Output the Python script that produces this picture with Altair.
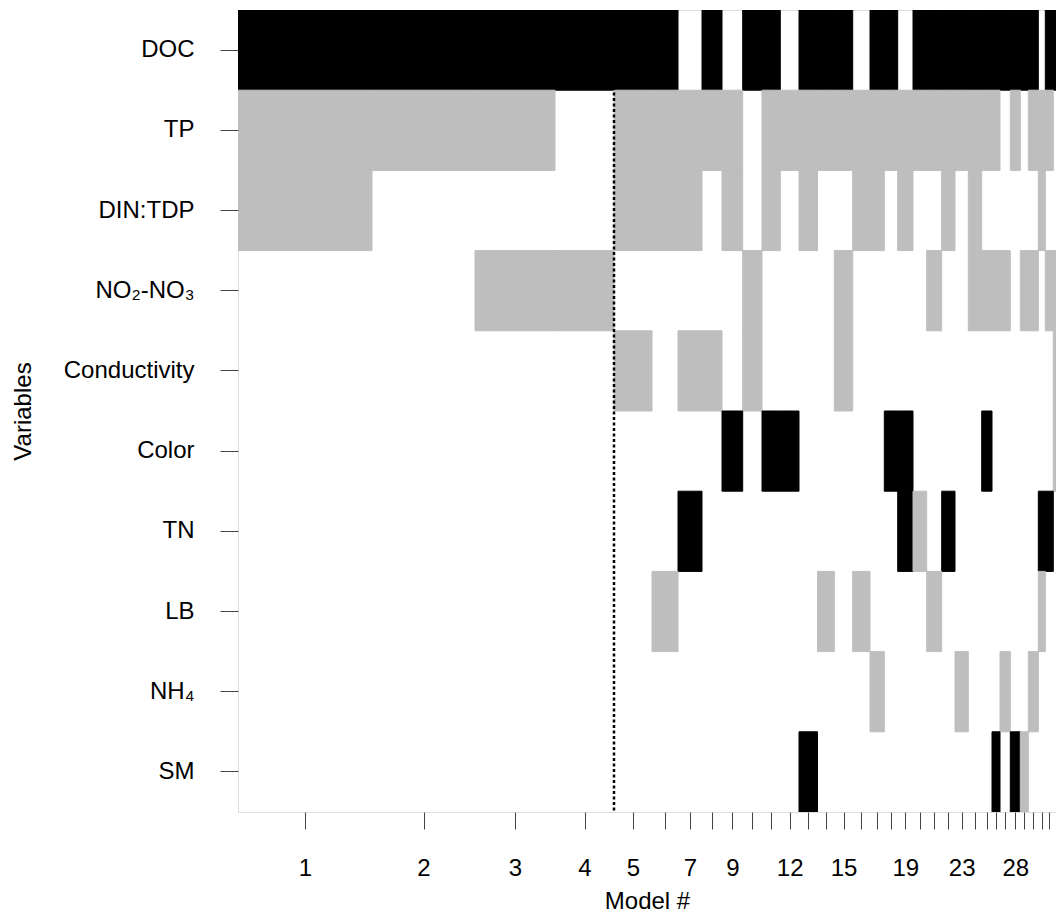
import altair as alt
import pandas as pd

# Variables (rows, top to bottom)
variables = ["DOC", "TP", "DIN:TDP", "NO₂-NO₃", "Conductivity",
             "Color", "TN", "LB", "NH₄", "SM"]

# Posterior model probabilities (%) for the visible models 1..34
post_prob = [13.4, 10.3, 8.0, 5.9, 3.8, 2.6, 2.4, 2.0, 2.07, 1.93,
             1.83, 1.87, 1.85, 1.68, 1.84, 1.73, 1.43, 1.34, 1.53, 1.37,
             1.50, 1.33, 1.33, 1.34, 1.03, 0.80, 1.03, 1.00, 0.80, 1.00,
             0.70, 0.80, 0.77, 0.50]

# Visible part of the cumulative probability axis (%)
x_max = 81.8

# Tick labels shown under the model ticks ("" = tick only)
tick_labels = ["1", "2", "3", "4", "5", "", "7", "", "9", "",
               "", "12", "", "", "15", "", "", "", "19", "",
               "", "", "23", "", "", "", "", "28", "", "",
               "", "", "", ""]

# Sign of coefficient per model: 1 = positive (black), -1 = negative (grey), 0 = not in model
doc  = [1, 1, 1, 1, 1, 1, 0, 1, 0, 1, 1, 0, 1, 1, 1, 0, 1, 1, 0, 1,
        1, 1, 1, 1, 1, 1, 1, 1, 1, 1, 0, 1, 1, 1]
tp   = [-1, -1, -1, 0, -1, -1, -1, -1, -1, 0, -1, -1, -1, -1, -1, -1, -1, -1, -1, -1,
        -1, -1, -1, -1, -1, -1, 0, -1, 0, -1, -1, -1, 0, 0]
din  = [-1, 0, 0, 0, -1, -1, -1, 0, -1, 0, -1, 0, -1, 0, 0, -1, -1, 0, -1, 0,
        0, -1, 0, -1, 0, 0, 0, 0, 0, 0, -1, 0, 0, 0]
no23 = [0, 0, -1, -1, 0, 0, 0, 0, 0, -1, 0, 0, 0, 0, -1, 0, 0, 0, 0, 0,
        -1, 0, 0, -1, -1, -1, -1, 0, -1, -1, 0, -1, -1, 0]
cond = [0, 0, 0, 0, -1, 0, -1, -1, 0, -1, 0, 0, 0, 0, -1, 0, 0, 0, 0, 0,
        0, 0, 0, 0, 0, 0, 0, 0, 0, 0, 0, 0, -1, 0]
color = [0, 0, 0, 0, 0, 0, 0, 0, 1, 0, 1, 1, 0, 0, 0, 0, 0, 1, 1, 0,
         0, 0, 0, 0, 1, 0, 0, 0, 0, 0, 0, 0, -1, 0]
tn   = [0, 0, 0, 0, 0, 0, 1, 0, 0, 0, 0, 0, 0, 0, 0, 0, 0, 0, 1, -1,
        0, 1, 0, 0, 0, 0, 0, 0, 0, 0, 1, 1, 0, -1]
lb   = [0, 0, 0, 0, 0, -1, 0, 0, 0, 0, 0, 0, 0, -1, 0, -1, 0, 0, 0, 0,
        -1, 0, 0, 0, 0, 0, 0, 0, 0, 0, -1, 0, 0, 0]
nh4  = [0, 0, 0, 0, 0, 0, 0, 0, 0, 0, 0, 0, 0, 0, 0, 0, -1, 0, 0, 0,
        0, 0, -1, 0, 0, 0, -1, 0, 0, -1, 0, 0, 0, 0]
sm   = [0, 0, 0, 0, 0, 0, 0, 0, 0, 0, 0, 0, 1, 0, 0, 0, 0, 0, 0, 0,
        0, 0, 0, 0, 0, 1, 0, 1, -1, 0, 0, 0, 0, 0]

# Number of best models marked by the dotted line
n_marked = 4

signs = [doc, tp, din, no23, cond, color, tn, lb, nh4, sm]

# Build model extents from the probabilities
starts, ends, centers = [], [], []
acc = 0.0
for p in post_prob:
    starts.append(round(acc, 4))
    centers.append(round(acc + p / 2, 4))
    acc += p
    ends.append(round(acc, 4))

rows = []
for var, s in zip(variables, signs):
    for i, v in enumerate(s):
        if v != 0:
            rows.append({"variable": var, "model": i + 1, "start": starts[i],
                         "end": ends[i], "sign": v})
df = pd.DataFrame(rows)

line_df = pd.DataFrame({"x": [ends[n_marked - 1]]})

FONT = "Liberation Sans, Arial, Helvetica, DejaVu Sans, sans-serif"

label_expr = "[" + ",".join("'%s'" % t for t in tick_labels) + "][indexof([" + \
    ",".join(repr(c) for c in centers) + "], datum.value)]"

x_scale = alt.Scale(domain=[0, x_max], nice=False, zero=False)
sign_scale = alt.Scale(domain=[-1, 1], range=["#bebebe", "#000000"])

rects = alt.Chart(df).mark_rect(clip=True, strokeWidth=1).encode(
    x=alt.X("start:Q", scale=x_scale,
            axis=alt.Axis(title="Model #", values=centers, labelExpr=label_expr,
                          tickCount=500, grid=False, domain=False, tickSize=17,
                          tickColor="#444", labelPadding=27, labelOverlap=False,
                          labelFontSize=24, labelFont=FONT, labelColor="black",
                          titleFont=FONT, titleFontSize=24, titleFontWeight="normal",
                          titleColor="black", titlePadding=9, labelFlush=False)),
    x2="end:Q",
    y=alt.Y("variable:N", sort=variables,
            scale=alt.Scale(domain=variables, paddingInner=0, paddingOuter=0),
            axis=alt.Axis(title="Variables", grid=False, domain=False, tickSize=18,
                          tickColor="#444", labelPadding=26, labelFontSize=24,
                          labelFont=FONT, labelColor="black", labelAlign="right",
                          titleFont=FONT, titleFontSize=24, titleFontWeight="normal",
                          titleColor="black", titlePadding=28)),
    color=alt.Color("sign:N", scale=sign_scale, legend=None),
    stroke=alt.Stroke("sign:N", scale=sign_scale, legend=None),
)

rule = alt.Chart(line_df).mark_rule(strokeDash=[3, 2.5], strokeWidth=2.5, color="black").encode(
    x=alt.X("x:Q", scale=x_scale)
)

chart = alt.layer(rects, rule).properties(
    width=818, height=802,
    padding={"left": 3, "top": 0, "right": 0, "bottom": 0},
).configure_view(stroke="#555", strokeWidth=1.2).configure(background="white")

chart.save("out.html", embed_options={"renderer": "svg", "actions": False})
